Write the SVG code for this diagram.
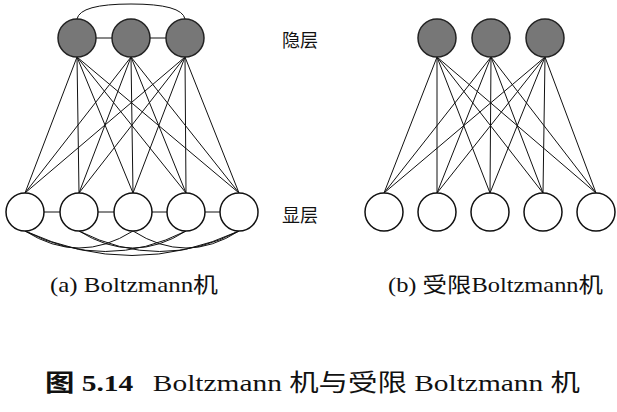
<svg xmlns="http://www.w3.org/2000/svg" width="617" height="412" viewBox="0 0 617 412">
<style>
.h{fill:#777;stroke:#222;stroke-width:1.5}
.v{fill:#fff;stroke:#111;stroke-width:1.5}
.c{stroke:#111;stroke-width:1;fill:none}
.t{font-family:"Liberation Serif","Noto Sans CJK SC",serif;fill:#111}
</style>
<rect width="617" height="412" fill="#fff"/>
<g id="connectors" class="c">
<path d="M77 57L25 193M77 57L79 193M77 57L133 193M77 57L186 193M77 57L239 193M131 57L25 193M131 57L79 193M131 57L133 193M131 57L186 193M131 57L239 193M185 57L25 193M185 57L79 193M185 57L133 193M185 57L186 193M185 57L239 193"/>
<path d="M96 38H112M150 38H166M77 19Q80 4 131 4Q182 4 185 19"/>
<path d="M44 212H60M98 212H114M152 212H167M205 212H220"/>
<path d="M25 231Q79 265 133 231M79 231Q133 265 186 231M133 231Q186 265 239 231M25 231Q105 272 186 231M79 231Q160 272 239 231M25 231Q132 280 239 231"/>
<path d="M437 57L384 193M437 57L437 193M437 57L490 193M437 57L543 193M437 57L596 193M491 57L384 193M491 57L437 193M491 57L490 193M491 57L543 193M491 57L596 193M545 57L384 193M545 57L437 193M545 57L490 193M545 57L543 193M545 57L596 193"/>
</g>
<g id="a-h1"><circle class="h" cx="77" cy="38" r="19"/></g>
<g id="a-h2"><circle class="h" cx="131" cy="38" r="19"/></g>
<g id="a-h3"><circle class="h" cx="185" cy="38" r="19"/></g>
<g id="a-v1"><circle class="v" cx="25" cy="212" r="19"/></g>
<g id="a-v2"><circle class="v" cx="79" cy="212" r="19"/></g>
<g id="a-v3"><circle class="v" cx="133" cy="212" r="19"/></g>
<g id="a-v4"><circle class="v" cx="186" cy="212" r="19"/></g>
<g id="a-v5"><circle class="v" cx="239" cy="212" r="19"/></g>
<g id="b-h1"><circle class="h" cx="437" cy="38" r="19"/></g>
<g id="b-h2"><circle class="h" cx="491" cy="38" r="19"/></g>
<g id="b-h3"><circle class="h" cx="545" cy="38" r="19"/></g>
<g id="b-v1"><circle class="v" cx="384" cy="212" r="19"/></g>
<g id="b-v2"><circle class="v" cx="437" cy="212" r="19"/></g>
<g id="b-v3"><circle class="v" cx="490" cy="212" r="19"/></g>
<g id="b-v4"><circle class="v" cx="543" cy="212" r="19"/></g>
<g id="b-v5"><circle class="v" cx="596" cy="212" r="19"/></g>
<text class="t" x="300" y="47" font-size="18" text-anchor="middle">隐层</text>
<text class="t" x="300" y="222" font-size="18" text-anchor="middle">显层</text>
<text class="t" x="50" y="292" font-size="21" textLength="168" lengthAdjust="spacingAndGlyphs">(a) Boltzmann机</text>
<text class="t" x="388" y="292" font-size="21" textLength="215" lengthAdjust="spacingAndGlyphs">(b) 受限Boltzmann机</text>
<text class="t" x="45" y="391" font-size="24" textLength="535" lengthAdjust="spacingAndGlyphs"><tspan font-weight="bold">图 5.14</tspan><tspan dx="16">Boltzmann 机与受限 Boltzmann 机</tspan></text>
</svg>
